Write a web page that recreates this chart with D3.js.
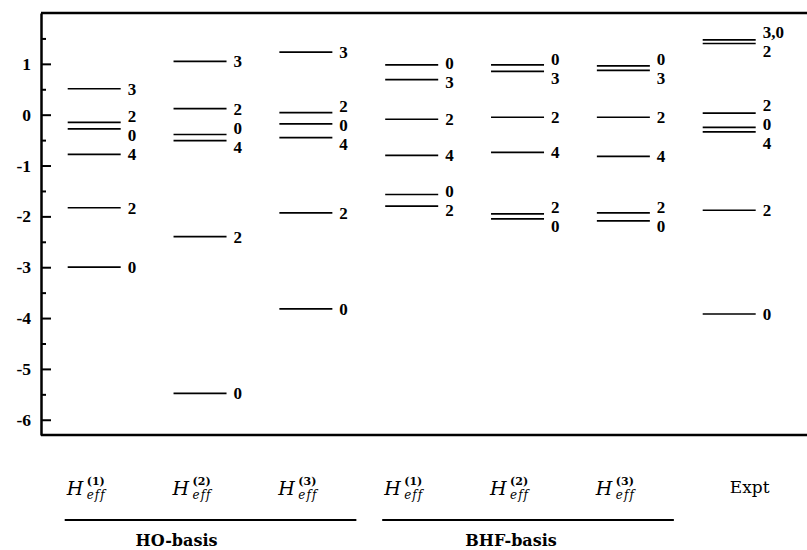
<!DOCTYPE html>
<html>
<head>
<meta charset="utf-8">
<script src="https://cdn.jsdelivr.net/npm/d3@7"></script>
<style>
  html, body { margin: 0; padding: 0; background: #fff; }
  svg { display: block; }
  .sub { font-variant-ligatures: none; font-feature-settings: "liga" 0; letter-spacing: 1px; }
</style>
</head>
<body>
<svg id="chart" width="807" height="550"></svg>
<script>
// ---- data (energies in MeV) ----
const columnNames = ["H1", "H2", "H3", "H1", "H2", "H3", "Expt"];
const columnSup = ["(1)", "(2)", "(3)", "(1)", "(2)", "(3)", ""];
const basisNames = ["HO-basis", "BHF-basis"];
const basisFirstColumn = [0, 3];
const basisLastColumn = [2, 5];

const hoH1Energies = [0.51, -0.15, -0.28, -0.78, -1.83, -3.00];
const hoH1Spins    = ["3", "2", "0", "4", "2", "0"];
const hoH2Energies = [1.05, 0.12, -0.39, -0.51, -2.40, -5.48];
const hoH2Spins    = ["3", "2", "0", "4", "2", "0"];
const hoH3Energies = [1.23, 0.04, -0.18, -0.45, -1.93, -3.82];
const hoH3Spins    = ["3", "2", "0", "4", "2", "0"];
const bhfH1Energies = [0.98, 0.69, -0.09, -0.80, -1.57, -1.80];
const bhfH1Spins    = ["0", "3", "2", "4", "0", "2"];
const bhfH2Energies = [0.98, 0.85, -0.05, -0.74, -1.95, -2.05];
const bhfH2Spins    = ["0", "3", "2", "4", "2", "0"];
const bhfH3Energies = [0.96, 0.87, -0.05, -0.82, -1.93, -2.09];
const bhfH3Spins    = ["0", "3", "2", "4", "2", "0"];
const exptEnergies = [1.47, 1.40, 0.03, -0.25, -0.34, -1.88, -3.92];
const exptSpins    = ["3,0", "2", "2", "0", "4", "2", "0"];

const majorTicks = [1, 0, -1, -2, -3, -4, -5, -6];
const minorTicks = [1.5, 0.5, -0.5, -1.5, -2.5, -3.5, -4.5, -5.5];
const yDomain = [-6.3, 2];

const columns = [
  [hoH1Energies, hoH1Spins], [hoH2Energies, hoH2Spins], [hoH3Energies, hoH3Spins],
  [bhfH1Energies, bhfH1Spins], [bhfH2Energies, bhfH2Spins], [bhfH3Energies, bhfH3Spins],
  [exptEnergies, exptSpins]
];

// ---- layout ----
const svg = d3.select("#chart");
const plotLeft = 41, plotRight = 807, plotTop = 13, plotBottom = 435;
const lineLen = 53;

const y = d3.scaleLinear().domain(yDomain).range([plotBottom, plotTop]);
const x = d3.scalePoint().domain(d3.range(columnNames.length)).range([67.7, 702.7]);

// frame (top & bottom)
svg.append("line").attr("x1", plotLeft).attr("x2", plotRight).attr("y1", plotTop).attr("y2", plotTop)
  .attr("stroke", "#000").attr("stroke-width", 2.5);
svg.append("line").attr("x1", plotLeft).attr("x2", plotRight).attr("y1", plotBottom).attr("y2", plotBottom)
  .attr("stroke", "#000").attr("stroke-width", 2.5);

// left axis, ticks pointing inward
const axisG = svg.append("g").attr("transform", `translate(${plotLeft},0)`)
  .call(d3.axisLeft(y).tickValues(majorTicks).tickSize(-10).tickSizeOuter(0)
    .tickPadding(10).tickFormat(d => String(d)));
axisG.select(".domain").attr("stroke-width", 2.5);
axisG.selectAll(".tick line").attr("stroke-width", 2);
axisG.selectAll(".tick text")
  .attr("font-family", "'Liberation Serif', serif")
  .attr("font-weight", "bold")
  .attr("font-size", 17.5)
  .attr("fill", "#000");

const minorG = svg.append("g").attr("transform", `translate(${plotLeft},0)`)
  .call(d3.axisLeft(y).tickValues(minorTicks).tickSize(-5).tickSizeOuter(0).tickFormat(""));
minorG.select(".domain").remove();
minorG.selectAll(".tick line").attr("stroke-width", 2);

// levels
const labelGap = 19;
columns.forEach(([energies, spins], ci) => {
  const x0 = x(ci);
  const levels = energies.map((e, i) => ({e, s: spins[i], ly: y(e)}))
    .sort((a, b) => a.ly - b.ly);
  for (let it = 0; it < 80; it++) {
    for (let i = 1; i < levels.length; i++) {
      const a = levels[i - 1], b = levels[i];
      if (b.ly - a.ly < labelGap) {
        const mid = (a.ly + b.ly) / 2;
        a.ly = mid - labelGap / 2;
        b.ly = mid + labelGap / 2;
      }
    }
  }
  const g = svg.append("g");
  g.selectAll("line").data(levels).join("line")
    .attr("x1", x0).attr("x2", x0 + lineLen)
    .attr("y1", d => y(d.e)).attr("y2", d => y(d.e))
    .attr("stroke", "#000").attr("stroke-width", 1.7);
  g.selectAll("text").data(levels).join("text")
    .attr("x", x0 + lineLen + 7)
    .attr("y", d => d.ly)
    .attr("dy", "0.35em")
    .attr("font-family", "'Liberation Serif', serif")
    .attr("font-weight", "bold")
    .attr("font-size", 17)
    .text(d => d.s);
});

// column labels
const labelBase = 495;
columnNames.forEach((name, ci) => {
  if (name === "Expt") {
    svg.append("text")
      .attr("x", x(ci) + 47).attr("y", 493)
      .attr("text-anchor", "middle")
      .attr("font-family", "'DejaVu Serif', serif")
      .attr("font-size", 17)
      .text("Expt");
  } else {
    const cx = x(ci) + 20;
    const g = svg.append("g").attr("font-family", "'DejaVu Serif', serif");
    g.append("text").attr("x", cx - 21).attr("y", labelBase)
      .attr("font-style", "italic").attr("font-size", 19).text("H");
    g.append("text").attr("x", cx - 1).attr("y", labelBase - 10)
      .attr("font-size", 11).attr("font-weight", "bold").text(columnSup[ci]);
    g.append("text").attr("class", "sub").attr("x", cx - 1).attr("y", labelBase + 4)
      .attr("font-style", "italic").attr("font-size", 12).text("eff");
  }
});

// basis groups
basisNames.forEach((name, bi) => {
  const x1 = x(basisFirstColumn[bi]) - 3;
  const x2 = x(basisLastColumn[bi]) + lineLen + 24;
  svg.append("line").attr("x1", x1).attr("x2", x2).attr("y1", 520).attr("y2", 520)
    .attr("stroke", "#000").attr("stroke-width", 1.8);
  svg.append("text")
    .attr("x", x(basisFirstColumn[bi] + 1) + (bi === 0 ? 3 : 20))
    .attr("y", 546)
    .attr("text-anchor", "middle")
    .attr("font-family", "'DejaVu Serif', serif")
    .attr("font-weight", "bold")
    .attr("font-size", 16)
    .text(name);
});
</script>
</body>
</html>
